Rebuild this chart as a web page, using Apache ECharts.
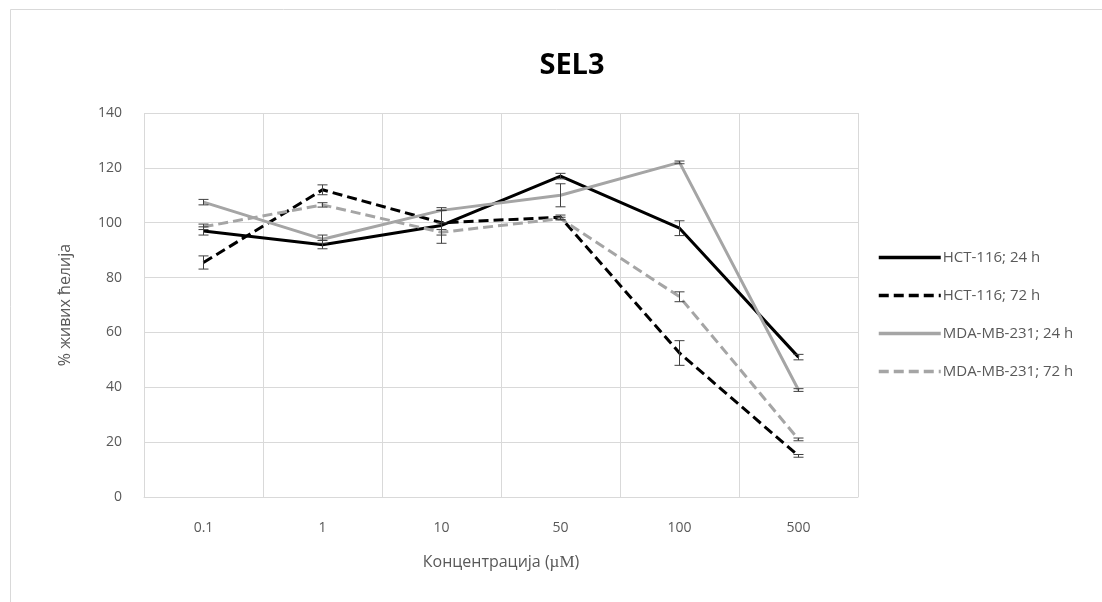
<!DOCTYPE html>
<html>
<head>
<meta charset="utf-8">
<style>
html,body{margin:0;padding:0;background:#fff;}
#chart{width:1102px;height:602px;}
</style>
<script src="https://cdn.jsdelivr.net/npm/echarts@6/dist/echarts.min.js"></script>
</head>
<body>
<div id="chart"></div>
<script>
const categories = ['0.1', '1', '10', '50', '100', '500'];
const seriesNames = ['HCT-116; 24 h', 'HCT-116; 72 h', 'MDA-MB-231; 24 h', 'MDA-MB-231; 72 h'];
const hct24 = [97, 92, 99, 117, 98, 51];
const hct24Err = [1.5, 1.5, 6.5, 1, 2.7, 1];
const hct72 = [85.5, 112, 100, 102, 52.5, 15];
const hct72Err = [2.4, 1.8, 0, 0.8, 4.5, 0.5];
const mda24 = [107.5, 94, 104.5, 110, 122, 39];
const mda24Err = [1, 1.5, 0, 4.2, 0.5, 0.5];
const mda72 = [98.5, 106.5, 96.5, 101.5, 73, 21];
const mda72Err = [1, 0.8, 1, 0.5, 1.8, 0.5];
const yTicks = { min: 0, max: 140, interval: 20 };

const chart = echarts.init(document.getElementById('chart'), null, { renderer: 'canvas' });

const lineDefs = [
  { name: seriesNames[0], values: hct24, err: hct24Err, color: '#000000', type: 'solid' },
  { name: seriesNames[1], values: hct72, err: hct72Err, color: '#000000', type: [10, 5] },
  { name: seriesNames[2], values: mda24, err: mda24Err, color: '#A5A5A5', type: 'solid' },
  { name: seriesNames[3], values: mda72, err: mda72Err, color: '#A5A5A5', type: [10, 5] }
];

function errRender(params, api) {
  const i = api.value(0);
  const lo = api.coord([i, api.value(1)]);
  const hi = api.coord([i, api.value(2)]);
  const w = 5;
  const st = { stroke: '#404040', lineWidth: 1 };
  return {
    type: 'group',
    children: [
      { type: 'line', shape: { x1: lo[0], y1: lo[1], x2: hi[0], y2: hi[1] }, style: st },
      { type: 'line', shape: { x1: lo[0] - w, y1: lo[1], x2: lo[0] + w, y2: lo[1] }, style: st },
      { type: 'line', shape: { x1: hi[0] - w, y1: hi[1], x2: hi[0] + w, y2: hi[1] }, style: st }
    ]
  };
}

const series = [];
lineDefs.forEach(function (d) {
  series.push({
    name: d.name,
    type: 'line',
    data: d.values,
    symbol: 'none',
    showSymbol: false,
    lineStyle: { color: d.color, width: 3, type: d.type },
    itemStyle: { color: d.color },
    z: 3
  });
});
lineDefs.forEach(function (d) {
  series.push({
    name: d.name + ' err',
    type: 'custom',
    renderItem: errRender,
    data: d.values.map(function (v, i) { return [i, v - d.err[i], v + d.err[i]]; }),
    encode: { x: 0, y: [1, 2] },
    z: 4,
    silent: true
  });
});

const option = {
  animation: false,
  backgroundColor: '#ffffff',
  title: {
    text: 'SEL3',
    left: 567,
    textAlign: 'center',
    top: 46,
    textStyle: { fontFamily: 'Open Sans', fontWeight: 'bold', fontSize: 29, color: '#000000' }
  },
  graphic: [
    { type: 'rect', shape: { x: 10.5, y: 9.5, width: 1200, height: 700 }, style: { fill: 'none', stroke: '#d9d9d9', lineWidth: 1 }, silent: true }
  ],
  legend: {
    data: seriesNames,
    orient: 'vertical',
    left: 872,
    top: 245,
    itemWidth: 62,
    itemHeight: 14,
    itemGap: 23,
    itemStyle: { opacity: 0 },
    lineStyle: { width: 3.5 },
    textStyle: { fontFamily: 'Open Sans', fontSize: 15, color: '#595959', padding: [0, 0, 0, -3] }
  },
  grid: { left: 144, right: 244, top: 113, bottom: 105 },
  xAxis: {
    type: 'category',
    data: categories,
    boundaryGap: true,
    axisLine: { show: true, lineStyle: { color: '#d9d9d9', width: 1 } },
    axisTick: { show: false },
    splitLine: { show: true, lineStyle: { color: '#d9d9d9', width: 1 } },
    axisLabel: { fontFamily: 'Open Sans', fontSize: 14, color: '#595959', margin: 24 },
    name: 'Концентрација ({mu|µM})',
    nameLocation: 'middle',
    nameGap: 57,
    nameTextStyle: {
      fontFamily: 'Open Sans', fontSize: 16, color: '#595959',
      rich: { mu: { fontFamily: 'Liberation Serif', fontSize: 17, color: '#595959' } }
    }
  },
  yAxis: {
    type: 'value',
    min: yTicks.min,
    max: yTicks.max,
    interval: yTicks.interval,
    axisLine: { show: false },
    axisTick: { show: false },
    splitLine: { show: true, lineStyle: { color: '#d9d9d9', width: 1 } },
    axisLabel: { fontFamily: 'Open Sans', fontSize: 14, color: '#595959', margin: 22 },
    name: '% живих ћелија',
    nameLocation: 'middle',
    nameGap: 71,
    nameTextStyle: { fontFamily: 'Open Sans', fontSize: 16, color: '#595959' }
  },
  series: series
};

chart.setOption(option);
</script>
</body>
</html>
